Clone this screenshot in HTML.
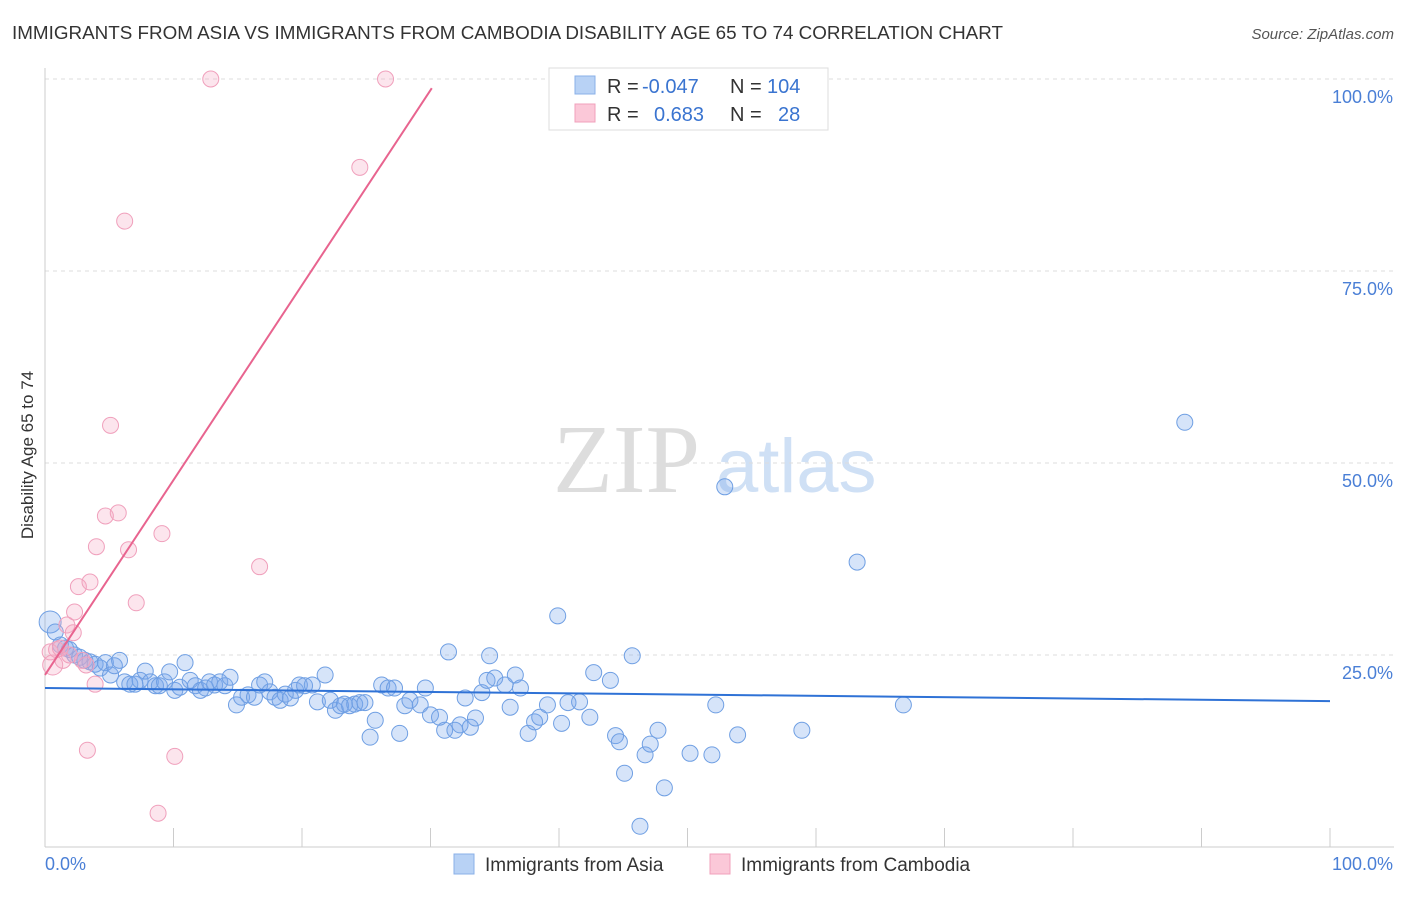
<!DOCTYPE html>
<html><head><meta charset="utf-8"><style>
body{margin:0;background:#fff;font-family:"Liberation Sans",sans-serif;}
</style></head><body>
<svg id="chart" width="1406" height="892" style="font-family:'Liberation Sans',sans-serif">
<text x="12" y="39" font-size="18" fill="#333" textLength="991" lengthAdjust="spacingAndGlyphs">IMMIGRANTS FROM ASIA VS IMMIGRANTS FROM CAMBODIA DISABILITY AGE 65 TO 74 CORRELATION CHART</text>
<text x="1394" y="39" font-size="15" fill="#555" text-anchor="end" font-style="italic">Source: ZipAtlas.com</text>
<g>
<text x="553" y="492" font-size="98" fill="#ddd" style="font-family:'Liberation Serif',serif">ZIP</text>
<text x="716" y="492" font-size="76" fill="#cfe0f5">atlas</text>
</g>
<g id="grid"></g><g id="axes"></g><g id="pts"></g><g id="lines"></g>
<g>
<rect x="549" y="68" width="279" height="62" fill="#fff" stroke="#ddd"/>
<rect x="575" y="76" width="20" height="18" fill="#b8d2f5" stroke="#8ab0e8"/>
<rect x="575" y="104" width="20" height="18" fill="#fbc8d8" stroke="#f0a0bb"/>
<text x="607" y="93" font-size="20" fill="#333">R =<tspan x="642" fill="#3a74d0">-0.047</tspan><tspan x="730">N =</tspan><tspan x="767" fill="#3a74d0">104</tspan></text>
<text x="607" y="121" font-size="20" fill="#333">R =<tspan x="654" fill="#3a74d0">0.683</tspan><tspan x="730">N =</tspan><tspan x="778" fill="#3a74d0">28</tspan></text>
</g>
<g>
<rect x="454" y="854" width="20" height="20" fill="#b8d2f5" stroke="#8ab0e8"/>
<text x="485" y="871" font-size="19" fill="#333">Immigrants from Asia</text>
<rect x="710" y="854" width="20" height="20" fill="#fbc8d8" stroke="#f0a0bb"/>
<text x="741" y="871" font-size="19" fill="#333">Immigrants from Cambodia</text>
</g>
<text x="33" y="455" font-size="17" fill="#333" transform="rotate(-90 33 455)" text-anchor="middle">Disability Age 65 to 74</text>
</svg>
<script>
const yTicks=[25,50,75,100];
const yTickLabels=["25.0%","50.0%","75.0%","100.0%"];
const xTicks=[0,10,20,30,40,50,60,70,80,90,100];
const asiaX=[0.4,0.8,1.2,1.6,1.9,2.3,2.7,3.1,3.5,3.9,4.3,4.7,5.1,5.4,5.8,6.2,6.6,7.0,7.4,7.8,8.2,8.6,8.9,9.3,9.7,10.1,10.5,10.9,11.3,11.7,12.1,12.5,12.8,13.2,13.6,14.0,14.4,14.9,15.3,15.8,16.3,16.7,17.1,17.5,17.9,18.3,18.7,19.1,19.5,19.8,20.2,20.8,21.2,21.8,22.2,22.6,23.0,23.3,23.7,24.1,24.5,24.9,25.3,25.7,26.2,26.7,27.2,27.6,28.0,28.4,29.2,29.6,30.0,30.7,31.1,31.4,31.9,32.3,32.7,33.1,33.5,34.0,34.4,34.6,35.0,35.8,36.2,36.6,37.0,37.6,38.1,38.5,39.1,39.9,40.2,40.7,41.6,42.4,42.7,44.0,44.4,44.7,45.1,45.7,46.3,46.7,47.1,47.7,48.2,50.2,51.9,52.2,52.9,53.9,58.9,63.2,66.8,88.7];
const asiaY=[29.3,28.0,26.3,25.9,25.7,25.0,24.7,24.3,24.1,23.8,23.3,24.0,22.4,23.6,24.3,21.5,21.2,21.2,21.7,22.9,21.5,21.0,21.0,21.5,22.8,20.4,20.8,24.0,21.7,21.0,20.4,20.7,21.5,21.1,21.5,21.0,22.1,18.5,19.5,19.8,19.5,21.1,21.5,20.2,19.5,19.1,19.9,19.4,20.4,21.1,21.0,21.1,18.9,22.4,19.1,17.8,18.4,18.6,18.4,18.6,18.8,18.8,14.3,16.5,21.1,20.7,20.7,14.8,18.4,19.1,18.5,20.7,17.2,16.9,15.2,25.4,15.2,15.9,19.4,15.6,16.8,20.1,21.7,24.9,22.0,21.1,18.2,22.4,20.7,14.8,16.3,16.9,18.5,30.1,16.1,18.8,18.9,16.9,22.7,21.7,14.5,13.7,9.6,24.9,2.7,12.0,13.4,15.2,7.7,12.2,12.0,18.5,46.9,14.6,15.2,37.1,18.5,55.3];
const cambX=[0.4,0.6,0.9,1.2,1.4,1.7,1.9,2.2,2.3,2.6,2.9,3.2,3.3,3.5,3.9,4.0,4.7,5.1,5.7,6.2,6.5,7.1,9.1,10.1,8.8,12.9,16.7,24.5,26.5];
const cambY=[25.4,23.7,25.7,25.9,24.3,28.9,25.0,27.9,30.6,33.9,24.3,23.7,12.6,34.5,21.2,39.1,43.1,54.9,43.5,81.5,38.7,31.8,40.8,11.8,4.4,100,36.5,88.5,100];
const asiaLine=[[0,20.7],[100,19.0]];
const cambLine=[[0,22.4],[30.1,98.8]];
const NS="http://www.w3.org/2000/svg";
const X=v=>45+v*12.85, Y=v=>847-v*7.68;
function mk(t,a,p){const e=document.createElementNS(NS,t);for(const k in a)e.setAttribute(k,a[k]);document.getElementById(p).appendChild(e);return e;}
yTicks.forEach((t,i)=>{
 const g=mk('line',{x1:45,x2:1394,y1:Y(t),y2:Y(t),stroke:'#ddd','stroke-dasharray':'4,4'},'grid');
 
 
 const l=mk('text',{x:1393,y:Y(t)+24,'font-size':18,fill:'#4a7fd6','text-anchor':'end'},'axes');l.textContent=yTickLabels[i];
 
 
});
const ax=mk('line',{x1:45,x2:45,y1:68,y2:847,stroke:'#ccc'},'axes');


const bx=mk('line',{x1:45,x2:1394,y1:847,y2:847,stroke:'#ccc'},'axes');


xTicks.forEach(t=>{const e=mk('line',{x1:X(t),x2:X(t),y1:828,y2:847,stroke:'#ccc'},'axes');
 
 });
let t0=mk('text',{x:45,y:870,'font-size':18,fill:'#4a7fd6'},'axes');t0.textContent='0.0%';


let t1=mk('text',{x:1393,y:870,'font-size':18,fill:'#4a7fd6','text-anchor':'end'},'axes');t1.textContent='100.0%';


asiaX.forEach((x,i)=>{const c=mk('circle',{cx:X(x),cy:Y(asiaY[i]),r:i==0?11:8,fill:'rgba(120,165,235,0.3)',stroke:'#6f9fe3','stroke-width':1},'pts');
 
 });
cambX.forEach((x,i)=>{const c=mk('circle',{cx:X(x),cy:Y(cambY[i]),r:i==1?10:8,fill:'rgba(245,170,195,0.3)',stroke:'#f0a0bc','stroke-width':1},'pts');
 
 });
const l1=mk('line',{x1:X(asiaLine[0][0]),y1:Y(asiaLine[0][1]),x2:X(asiaLine[1][0]),y2:Y(asiaLine[1][1]),stroke:'#2f72d6','stroke-width':2},'lines');


const l2=mk('line',{x1:X(cambLine[0][0]),y1:Y(cambLine[0][1]),x2:X(cambLine[1][0]),y2:Y(cambLine[1][1]),stroke:'#e8648f','stroke-width':2},'lines');


</script>
</body></html>
